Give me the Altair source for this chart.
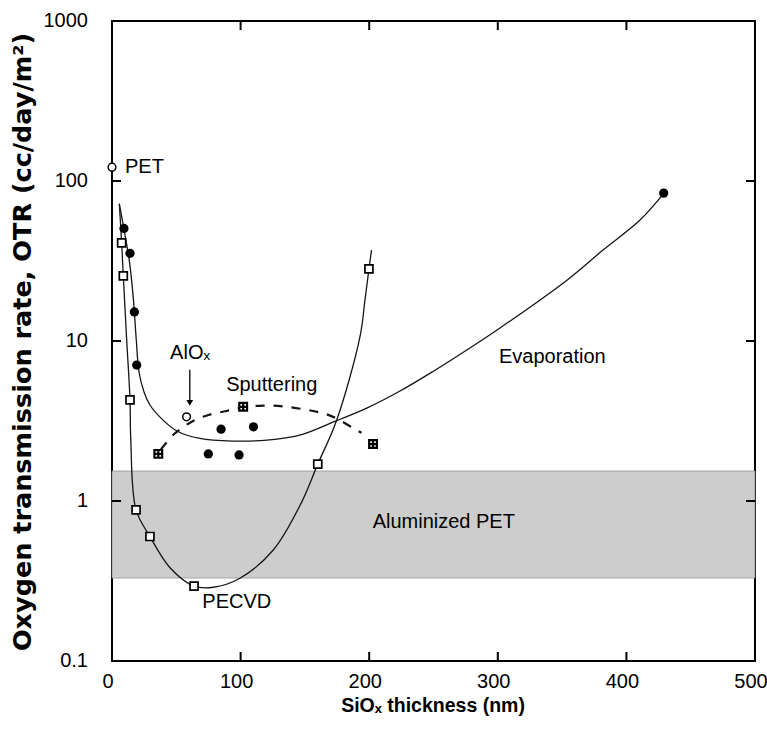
import altair as alt
import pandas as pd

# ---------------- data ----------------
# Evaporated SiOx coatings (filled circles)
evap_x = [9.3, 14, 17.4, 19.2, 74.9, 84.8, 98.8, 110, 429]
evap_y = [50.5, 35.3, 15.2, 7.07, 1.97, 2.81, 1.94, 2.91, 84]

# PECVD SiOx coatings (open squares)
pecvd_x = [7.5, 8.8, 14, 18.7, 29.5, 63.8, 160, 199.8]
pecvd_y = [41, 25.5, 4.28, 0.88, 0.60, 0.294, 1.70, 28.2]

# Sputtered coatings (crossed squares)
sput_x = [36, 102, 203]
sput_y = [1.97, 3.88, 2.27]

# Uncoated PET and AlOx reference points (open circles)
ref_x = [0, 58]
ref_y = [122, 3.36]

# Trend curves
evap_curve_x = [5.7, 9.7, 13.6, 16.7, 18.9, 21, 24.9, 29.5, 38.9, 50.5, 68.4, 94, 120.5,
                146, 174.7, 198.1, 224, 249.6, 275.3, 301.7, 353.8, 381.8, 410.6, 429.2]
evap_curve_y = [72, 48, 31.2, 18.0, 10.1, 6.4, 4.8, 3.98, 3.25, 2.74, 2.46, 2.37, 2.40,
                2.58, 3.18, 3.81, 4.87, 6.45, 8.72, 12.06, 24, 37, 57, 84]

pecvd_curve_x = [5.7, 7.5, 8.8, 11.35, 14, 14.6, 18.7, 29.5, 45.1, 63.8, 78.8, 99.5,
                 125.4, 147, 160, 174.7, 192.8, 196.7, 199.8, 201.8]
pecvd_curve_y = [72, 41, 25.5, 10.4, 4.28, 2.41, 0.88, 0.60, 0.383, 0.294, 0.289, 0.329,
                 0.494, 0.967, 1.70, 3.2, 10.6, 18.0, 28.2, 37]

sput_curve_x = [38, 49, 62, 75, 89, 102, 118, 133, 151, 167, 177, 188, 194]
sput_curve_y = [2.1, 2.65, 3.13, 3.45, 3.65, 3.85, 3.95, 3.9, 3.72, 3.48, 3.2, 2.84, 2.67]

# Range covered by aluminized PET
alu_low = 0.33
alu_high = 1.54

# Axis labels and inner tick marks
x_labels = [0, 100, 200, 300, 400, 500]
x_label_text = ["0", "100", "200", "300", "400", "500"]
y_labels = [0.1, 1, 10, 100, 1000]
y_label_text = ["0.1", "1", "10", "100", "1000"]
x_inner_ticks = [100, 200, 300, 400]
y_inner_ticks = [1, 10, 100]

x_title = "SiOₓ thickness (nm)"
y_title = "Oxygen transmission rate, OTR (cc/day/m²)"

# Annotation text
label_text = ["Evaporation", "Sputtering", "PECVD", "Aluminized PET", "AlOₓ"]
label_x = [342.4, 124.2, 97, 258, 60.7]
label_y = [7.98, 5.31, 0.235, 0.743, 8.4]

# AlOx arrow
arrow_x = 60.5
arrow_top = 6.6
arrow_tip = 4.1

# ---------------- chart ----------------
W, H = 643, 640
FONT = "Liberation Sans"
INK = "#151515"
TICK = 9

xs = alt.Scale(domain=[0, 500], nice=False, zero=False)
ys = alt.Scale(type="log", domain=[0.1, 1000], nice=False)

X = alt.X("x:Q", scale=xs, axis=None)
Y = alt.Y("y:Q", scale=ys, axis=None)


def xy(vx, vy):
    return pd.DataFrame({"x": vx, "y": vy})


band = alt.Chart(pd.DataFrame({"x": [0], "x2": [500], "y": [alu_low], "y2": [alu_high]})).mark_rect(
    fill="#cdcdcd", stroke="#8a8a8a", strokeWidth=0.7
).encode(x=X, x2="x2:Q", y=Y, y2="y2:Q")

# Inward tick marks on all four sides of the frame
tx = pd.DataFrame({"x": x_inner_ticks})
ty = pd.DataFrame({"y": y_inner_ticks})
tick_style = dict(color="black", strokeWidth=2)
ticks_bottom = alt.Chart(tx).mark_rule(**tick_style).encode(x=X, y=alt.value(H - TICK), y2=alt.value(H))
ticks_top = alt.Chart(tx).mark_rule(**tick_style).encode(x=X, y=alt.value(0), y2=alt.value(TICK))
ticks_left = alt.Chart(ty).mark_rule(**tick_style).encode(y=Y, x=alt.value(0), x2=alt.value(TICK))
ticks_right = alt.Chart(ty).mark_rule(**tick_style).encode(y=Y, x=alt.value(W - TICK), x2=alt.value(W))

# Tick labels, placed with the same scales as the data
x_tick_labels = alt.Chart(pd.DataFrame({"x": x_labels, "t": x_label_text})).mark_text(
    font=FONT, fontSize=20, color="black", align="center", baseline="middle", dx=-4
).encode(x=X, y=alt.value(H + 21), text="t:N")
y_tick_labels = alt.Chart(pd.DataFrame({"y": y_labels, "t": y_label_text})).mark_text(
    font=FONT, fontSize=20, color="black", align="right", baseline="middle"
).encode(y=Y, x=alt.value(-24), text="t:N")

# Axis titles
x_title_mark = alt.Chart(pd.DataFrame({"t": [x_title]})).mark_text(
    font=FONT, fontSize=19.5, fontWeight="bold", color="black", align="center", baseline="middle"
).encode(x=alt.value(321), y=alt.value(H + 45), text="t:N")
y_title_mark = alt.Chart(pd.DataFrame({"t": [y_title]})).mark_text(
    font="DejaVu Sans", fontSize=25.5, fontWeight="bold", color="black", align="center",
    baseline="middle", angle=270
).encode(x=alt.value(-89), y=alt.value(321), text="t:N")

line_style = dict(color=INK, strokeWidth=1.3, interpolate="catmull-rom")
evap_line = alt.Chart(xy(evap_curve_x, evap_curve_y)).mark_line(**line_style).encode(x=X, y=Y)
pecvd_line = alt.Chart(xy(pecvd_curve_x, pecvd_curve_y)).mark_line(**line_style).encode(x=X, y=Y)
sput_line = alt.Chart(xy(sput_curve_x, sput_curve_y)).mark_line(
    color=INK, strokeWidth=2.2, interpolate="catmull-rom", strokeDash=[9, 9]
).encode(x=X, y=Y)

evap_pts = alt.Chart(xy(evap_x, evap_y)).mark_point(
    shape="circle", filled=True, fill="black", size=85, opacity=1
).encode(x=X, y=Y)

pecvd_pts = alt.Chart(xy(pecvd_x, pecvd_y)).mark_point(
    shape="square", filled=False, fill="white", fillOpacity=1, stroke="black", strokeWidth=1.7,
    size=64, opacity=1
).encode(x=X, y=Y)

sput_pts = alt.Chart(xy(sput_x, sput_y)).mark_point(
    shape="M-1,-1H1V1H-1ZM-1,0H1M0,-1V1", filled=False, fill="white", fillOpacity=1,
    stroke="black", strokeWidth=2.2, size=60, opacity=1
).encode(x=X, y=Y)

ref_pts = alt.Chart(xy(ref_x, ref_y)).mark_point(
    shape="circle", filled=False, fill="white", fillOpacity=1, stroke="black", strokeWidth=1.5,
    size=60, opacity=1
).encode(x=X, y=Y)

arrow_shaft = alt.Chart(pd.DataFrame({"x": [arrow_x], "y": [arrow_top], "y2": [arrow_tip]})).mark_rule(
    color="black", strokeWidth=1.3
).encode(x=X, y=Y, y2="y2:Q")
arrow_head = alt.Chart(pd.DataFrame({"x": [arrow_x], "y": [arrow_tip]})).mark_point(
    shape="triangle-down", filled=True, fill="black", size=45, opacity=1
).encode(x=X, y=Y)

labels = alt.Chart(pd.DataFrame({"x": label_x, "y": label_y, "t": label_text})).mark_text(
    font=FONT, fontSize=20, color="black", align="center", baseline="middle"
).encode(x=X, y=Y, text="t:N")

pet_label = alt.Chart(pd.DataFrame({"x": [ref_x[0]], "y": [ref_y[0]], "t": ["PET"]})).mark_text(
    font=FONT, fontSize=20, color="black", align="left", baseline="middle", dx=13
).encode(x=X, y=Y, text="t:N")

chart = alt.layer(
    band,
    ticks_bottom, ticks_top, ticks_left, ticks_right,
    evap_line, pecvd_line, sput_line,
    arrow_shaft, arrow_head,
    evap_pts, pecvd_pts, sput_pts, ref_pts,
    labels, pet_label,
    x_tick_labels, y_tick_labels, x_title_mark, y_title_mark,
).properties(
    width=W,
    height=H,
    padding={"left": 112, "top": 21, "right": 12, "bottom": 81},
    autosize=alt.AutoSizeParams(type="none"),
    background="white",
).configure_view(
    stroke="black", strokeWidth=2
)

chart.save("out.html", embed_options={"renderer": "svg", "actions": False})
